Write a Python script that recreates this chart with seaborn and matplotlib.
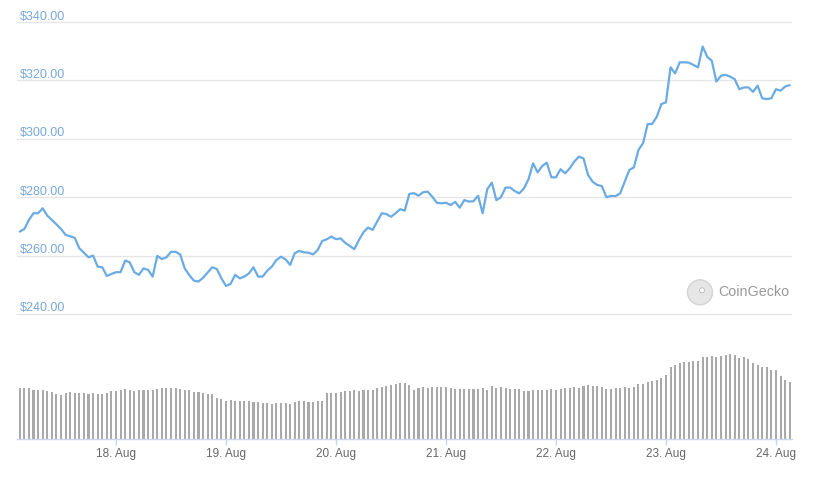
import numpy as np
import pandas as pd
import matplotlib
matplotlib.use("Agg")
import matplotlib.pyplot as plt
import seaborn as sns
from matplotlib.transforms import blended_transform_factory, ScaledTranslation
from matplotlib.patches import Circle

# ---------------- data ----------------
start_time = "2023-08-17 03:00"
price = [268.2, 269.1, 272.2, 274.5, 274.5, 276.2, 273.7, 272.2, 270.7, 269.1,
         267.1, 266.6, 266.1, 262.5, 261.0, 259.4, 260.0, 256.2, 256.0, 253.0,
         253.7, 254.3, 254.3, 258.3, 257.7, 254.3, 253.4, 255.6, 255.1, 252.8,
         259.9, 258.8, 259.4, 261.3, 261.3, 260.4, 255.6, 253.3, 251.4, 251.1,
         252.4, 254.2, 256.0, 255.4, 252.2, 249.6, 250.3, 253.4, 252.2, 252.8,
         253.9, 256.0, 252.8, 252.8, 254.8, 256.2, 258.5, 259.6, 258.7, 256.8,
         260.8, 261.6, 261.1, 261.0, 260.4, 261.9, 265.0, 265.6, 266.5, 265.6,
         265.9, 264.4, 263.3, 262.2, 265.3, 268.0, 269.6, 268.8, 271.7, 274.5,
         274.2, 273.3, 274.5, 275.9, 275.4, 281.1, 281.4, 280.5, 281.7, 281.9,
         280.2, 278.1, 277.9, 278.1, 277.3, 278.4, 276.4, 279.0, 278.5, 278.6,
         280.5, 274.5, 282.7, 285.0, 279.0, 280.0, 283.3, 283.3, 282.1, 281.3,
         283.0, 286.1, 291.6, 288.5, 290.7, 291.8, 286.8, 286.8, 289.6, 288.2,
         289.9, 292.2, 293.9, 293.3, 287.6, 285.3, 284.2, 283.8, 280.0, 280.4,
         280.4, 281.3, 285.3, 289.3, 290.2, 296.2, 298.5, 305.0, 305.1, 307.6,
         311.9, 312.5, 324.5, 322.4, 326.2, 326.2, 326.1, 325.3, 324.5, 331.6,
         328.1, 326.7, 319.6, 321.6, 321.9, 321.3, 320.4, 317.0, 317.6, 317.6,
         316.1, 318.2, 313.9, 313.6, 313.9, 317.0, 316.5, 317.9, 318.4]

volume = [153, 153, 153, 147, 147, 147, 144, 141, 135, 132,
          138, 141, 138, 138, 138, 135, 138, 135, 135, 138,
          144, 144, 147, 150, 147, 144, 147, 147, 147, 147,
          150, 153, 153, 153, 153, 150, 147, 147, 141, 141,
          138, 135, 135, 123, 120, 114, 117, 114, 114, 114,
          114, 111, 111, 108, 108, 105, 108, 108, 108, 105,
          111, 114, 114, 111, 111, 114, 114, 138, 138, 138,
          141, 144, 144, 147, 144, 147, 147, 147, 153, 156,
          159, 162, 165, 168, 168, 162, 147, 153, 156, 153,
          156, 156, 156, 156, 153, 150, 150, 150, 150, 150,
          150, 153, 147, 159, 153, 156, 153, 150, 150, 150,
          144, 144, 147, 147, 147, 147, 150, 147, 150, 153,
          153, 156, 153, 159, 162, 159, 159, 156, 150, 150,
          153, 153, 156, 153, 156, 165, 165, 171, 174, 177,
          183, 192, 215, 222, 228, 231, 231, 234, 234, 246,
          246, 249, 246, 249, 252, 255, 252, 243, 246, 240,
          228, 222, 216, 216, 207, 207, 189, 177, 171]

price_ticks = [240, 260, 280, 300, 320, 340]
day_labels = ["18. Aug", "19. Aug", "20. Aug", "21. Aug", "22. Aug", "23. Aug", "24. Aug"]

n = len(price)
times = pd.date_range(start_time, periods=n, freq="h")
df = pd.DataFrame({"idx": np.arange(n), "price": price, "volume": volume})
midnights = list(np.where(times.hour == 0)[0])

# ---------------- style ----------------
sns.set_theme(style="white")
plt.rcParams["font.family"] = ["Liberation Sans", "DejaVu Sans"]

W, H = 814, 479
fig = plt.figure(figsize=(W / 100, H / 100), dpi=100)
fig.patch.set_facecolor("white")

left_px, right_px = 17.46, 792.0
L = left_px / W
Wd = (right_px - left_px) / W
ax_p = fig.add_axes([L, 1 - 319.8 / H, Wd, (319.8 - 16.2) / H])
ax_v = fig.add_axes([L, 1 - 438.5 / H, Wd, 100 / H])

# ---------------- price line ----------------
sns.lineplot(data=df, x="idx", y="price", ax=ax_p, color="#6aabe4", linewidth=1.6)
ax_p.set_xlim(-0.5, n - 0.5)
ax_p.set_ylim(238, 342)
ax_p.set_yticks(price_ticks)
ax_p.set_yticklabels([])
ax_p.set_xticks([])
ax_p.tick_params(left=False, bottom=False)
ax_p.grid(axis="y", color="#e6e6e6", linewidth=1)
ax_p.set_xlabel("")
ax_p.set_ylabel("")
for s in ax_p.spines.values():
    s.set_visible(False)
ax_p.set_facecolor("none")

trans = blended_transform_factory(ax_p.transAxes, ax_p.transData) + \
    ScaledTranslation(0, 5.5 / 100, fig.dpi_scale_trans)
xfrac = (20 - left_px) / (right_px - left_px)
for v in price_ticks:
    ax_p.text(xfrac, v, f"${v:,.2f}", transform=trans, ha="left", va="center",
              fontsize=9, color="#78a8d8")

# ---------------- volume bars ----------------
sns.barplot(data=df, x="idx", y="volume", ax=ax_v, color="#a9a9a9",
            saturation=1, width=0.45, linewidth=0)
ax_v.set_xlim(-0.5, n - 0.5)
ax_v.set_ylim(0, 300)
ax_v.set_yticks([])
ax_v.set_xticks(midnights)
ax_v.set_xticklabels(day_labels)
ax_v.tick_params(axis="x", bottom=True, length=4, width=1, color="#ccd6eb",
                 labelcolor="#666666", labelsize=8.5, pad=2.5, direction="out")
ax_v.set_xlabel("")
ax_v.set_ylabel("")
for k, s in ax_v.spines.items():
    s.set_visible(k == "bottom")
ax_v.spines["bottom"].set_color("#ccd6eb")
ax_v.spines["bottom"].set_linewidth(1)
ax_v.set_facecolor("none")

# ---------------- watermark ----------------
cx, cy = 700 / 100, (H - 292.3) / 100
fig.add_artist(Circle((cx, cy), 0.125, transform=fig.dpi_scale_trans,
                      facecolor="#e6e6e6", edgecolor="#d4d4d4", linewidth=1))
fig.add_artist(Circle((cx + 0.02, cy + 0.02), 0.025, transform=fig.dpi_scale_trans,
                      facecolor="white", edgecolor="#bbbbbb", linewidth=0.6))
fig.text(718 / W, 1 - 292.3 / H, "CoinGecko", ha="left", va="center",
         fontsize=10.3, color="#999999")

fig.savefig("out.png", dpi=100, facecolor="white")
